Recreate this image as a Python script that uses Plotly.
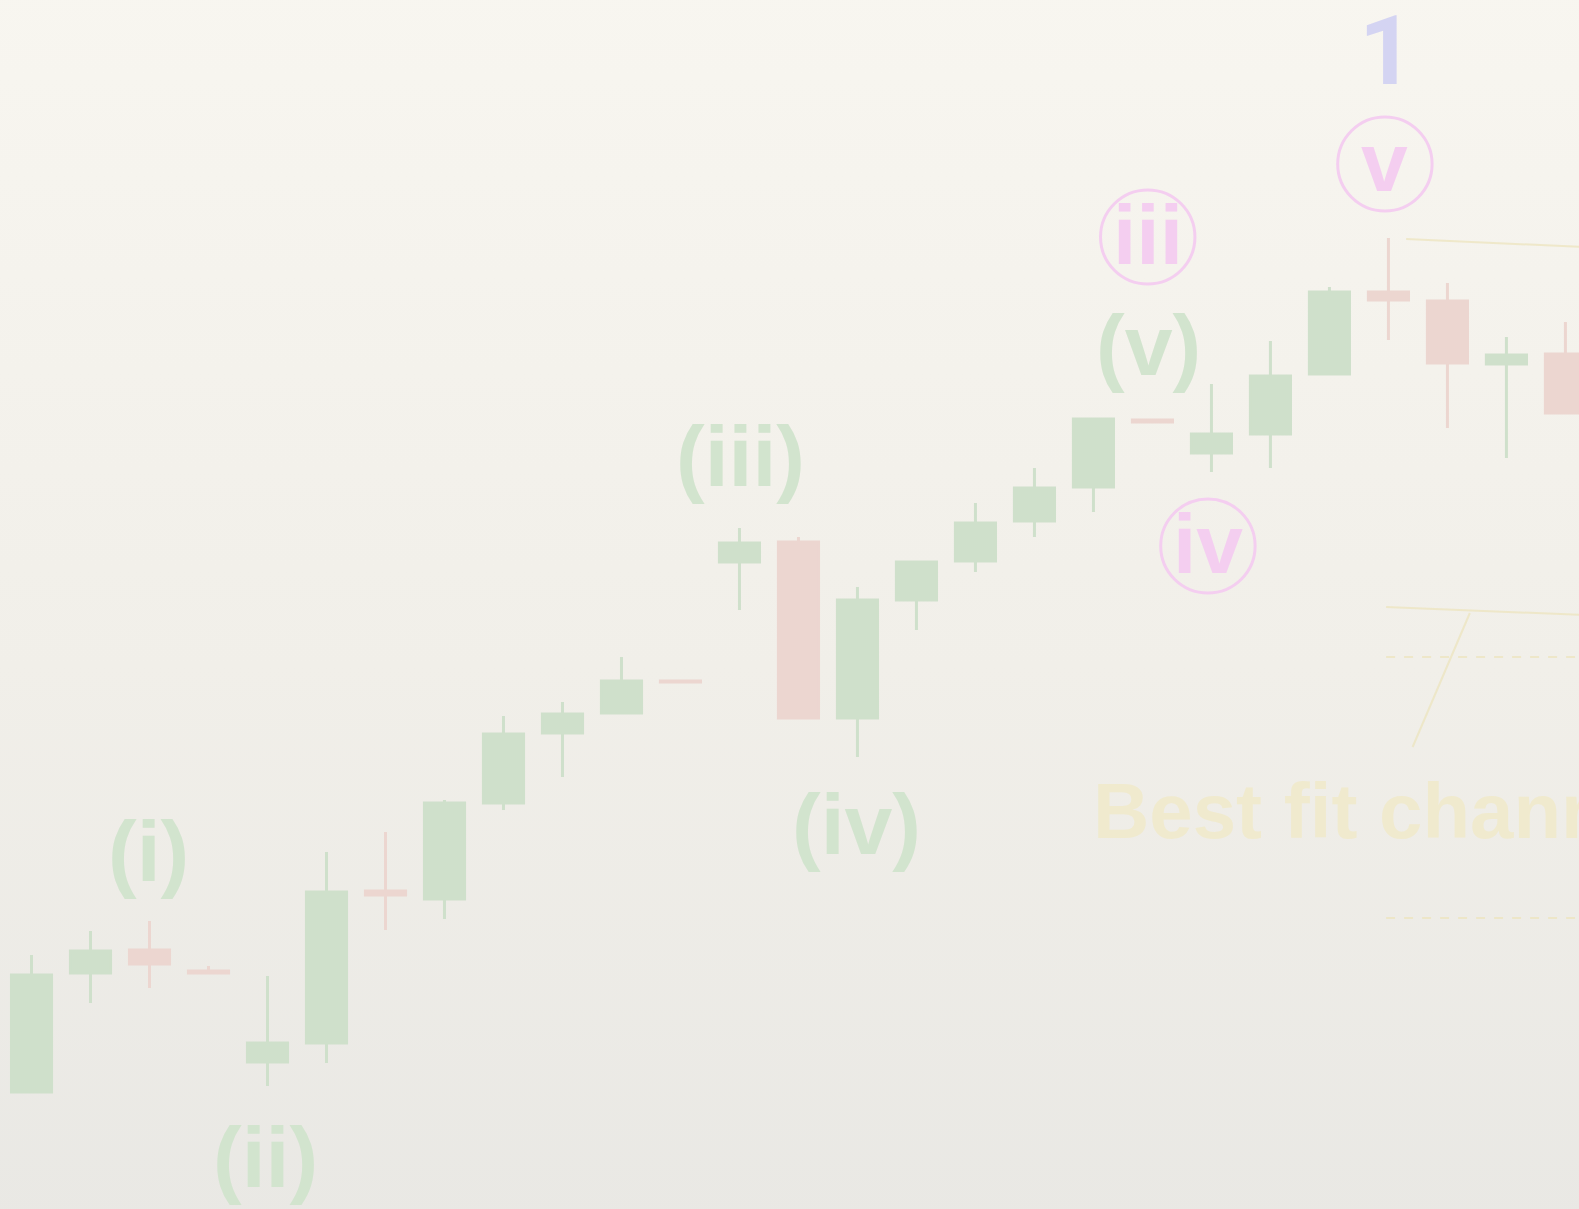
import plotly.graph_objects as go

# ---- data (bar index, price units) ----
bars = list(range(27))
open_ = [117, 236, 259, 238, 147, 166, 318, 310, 406, 476, 496, 528, 647, 667, 491,
         609, 648, 688, 722, 789, 756, 775, 835, 917, 908, 845, 855]
high = [254, 278, 288, 243, 233, 357, 377, 409, 493, 507, 552, 529, 681, 672, 622,
        647, 706, 741, 790, 789, 825, 868, 922, 971, 926, 872, 887]
low = [117, 206, 221, 236, 123, 146, 279, 290, 399, 432, 496, 526, 599, 491, 452,
       579, 637, 672, 697, 787, 737, 741, 835, 869, 781, 751, 796]
close = [234, 258, 245, 236, 166, 317, 314, 406, 475, 495, 528, 527, 666, 491, 609,
         647, 686, 721, 790, 787, 775, 833, 917, 909, 846, 854, 796]

# wave labels: text, bar position, price
wave_text = ["(i)", "(ii)", "(iii)", "(iv)", "(v)"]
wave_x = [1.99, 3.96, 12.01, 13.99, 18.94]
wave_y = [358, 52, 753, 385, 864]

circ_text = ["iii", "iv", "v"]
circ_x = [18.92, 19.94, 22.94]
circ_y = [974, 665, 1047]
circ_center_y = [972, 663, 1045]

GREEN = "rgb(207,224,203)"
RED = "rgb(236,214,208)"
GREEN_TXT = "rgb(210,228,206)"
PINK = "rgb(244,206,240)"
BLUE = "rgb(212,212,242)"
YELLOW = "rgb(240,234,206)"
YELLOW_LINE = "rgba(236,228,190,0.75)"
FONT = "Liberation Sans, Arial, sans-serif"

XR = [-0.534, 26.23]
YR = [0, 1209]

fig = go.Figure()

# paper background (on the base axes, drawn beneath the overlaid chart axes)
fig.add_trace(go.Scatter(
    x=[XR[0] - 1, XR[1] + 1, XR[1] + 1, XR[0] - 1], y=[-20, -20, 1230, 1230],
    fill="toself", mode="lines", line=dict(width=0), hoverinfo="skip",
    fillgradient=dict(type="vertical",
                      colorscale=[[0, "rgb(233,232,228)"], [0.45, "rgb(241,239,233)"],
                                  [1, "rgb(248,246,240)"]]),
    xaxis="x", yaxis="y", showlegend=False))

fig.add_trace(go.Candlestick(
    x=bars, open=open_, high=high, low=low, close=close,
    increasing=dict(fillcolor=GREEN, line=dict(color=GREEN, width=3)),
    decreasing=dict(fillcolor=RED, line=dict(color=RED, width=3)),
    xaxis="x2", yaxis="y2", showlegend=False))

for t, x, y in zip(wave_text, wave_x, wave_y):
    fig.add_annotation(x=x, y=y, xref="x2", yref="y2", text=t, showarrow=False,
                       xanchor="center", yanchor="middle",
                       font=dict(family=FONT, size=86, color=GREEN_TXT, weight="bold"))

for t, x, y, cy in zip(circ_text, circ_x, circ_y, circ_center_y):
    fig.add_annotation(x=x, y=y, xref="x2", yref="y2", text=t, showarrow=False,
                       xanchor="center", yanchor="middle",
                       font=dict(family=FONT, size=84, color=PINK, weight="bold"))
    fig.add_shape(type="circle", xref="x2", yref="y2",
                  x0=x - 0.8, x1=x + 0.8, y0=cy - 47, y1=cy + 47,
                  line=dict(color=PINK, width=3))

fig.add_annotation(x=22.97, y=1158, xref="x2", yref="y2", text="1", showarrow=False,
                   xanchor="center", yanchor="middle",
                   font=dict(family="Roboto, Inter, sans-serif", size=96, color=BLUE, weight="bold"))
fig.add_annotation(x=17.95, y=398, xref="x2", yref="y2", text="Best fit channel", showarrow=False,
                   xanchor="left", yanchor="middle",
                   font=dict(family=FONT, size=78, color=YELLOW, weight="bold"))

# best fit channel lines
LINE = dict(color=YELLOW_LINE, width=2)
fig.add_shape(type="line", xref="x2", yref="y2", x0=23.3, y0=970, x1=26.3, y1=962, line=LINE)
fig.add_shape(type="line", xref="x2", yref="y2", x0=22.96, y0=602, x1=26.3, y1=594, line=LINE)
fig.add_shape(type="line", xref="x2", yref="y2", x0=22.96, y0=552, x1=26.3, y1=552,
              line=dict(color=YELLOW_LINE, width=2, dash="dash"))
fig.add_shape(type="line", xref="x2", yref="y2", x0=22.96, y0=291, x1=26.3, y1=291,
              line=dict(color=YELLOW_LINE, width=2, dash="dash"))
fig.add_shape(type="line", xref="x2", yref="y2", x0=24.38, y0=596, x1=23.41, y1=462, line=LINE)

fig.update_layout(
    width=1579, height=1209,
    margin=dict(l=0, r=0, t=0, b=0),
    paper_bgcolor="rgb(244,242,236)", plot_bgcolor="rgb(244,242,236)",
    boxgap=0.32, boxgroupgap=0,
    xaxis=dict(range=XR, visible=False, fixedrange=True),
    yaxis=dict(range=YR, visible=False, fixedrange=True),
    xaxis2=dict(range=XR, visible=False, overlaying="x", rangeslider=dict(visible=False),
                fixedrange=True),
    yaxis2=dict(range=YR, visible=False, overlaying="y", fixedrange=True),
    showlegend=False,
)

fig.write_html("out.html", config={"displayModeBar": False},
               post_script="document.body.style.margin='0';document.body.style.padding='0';")
